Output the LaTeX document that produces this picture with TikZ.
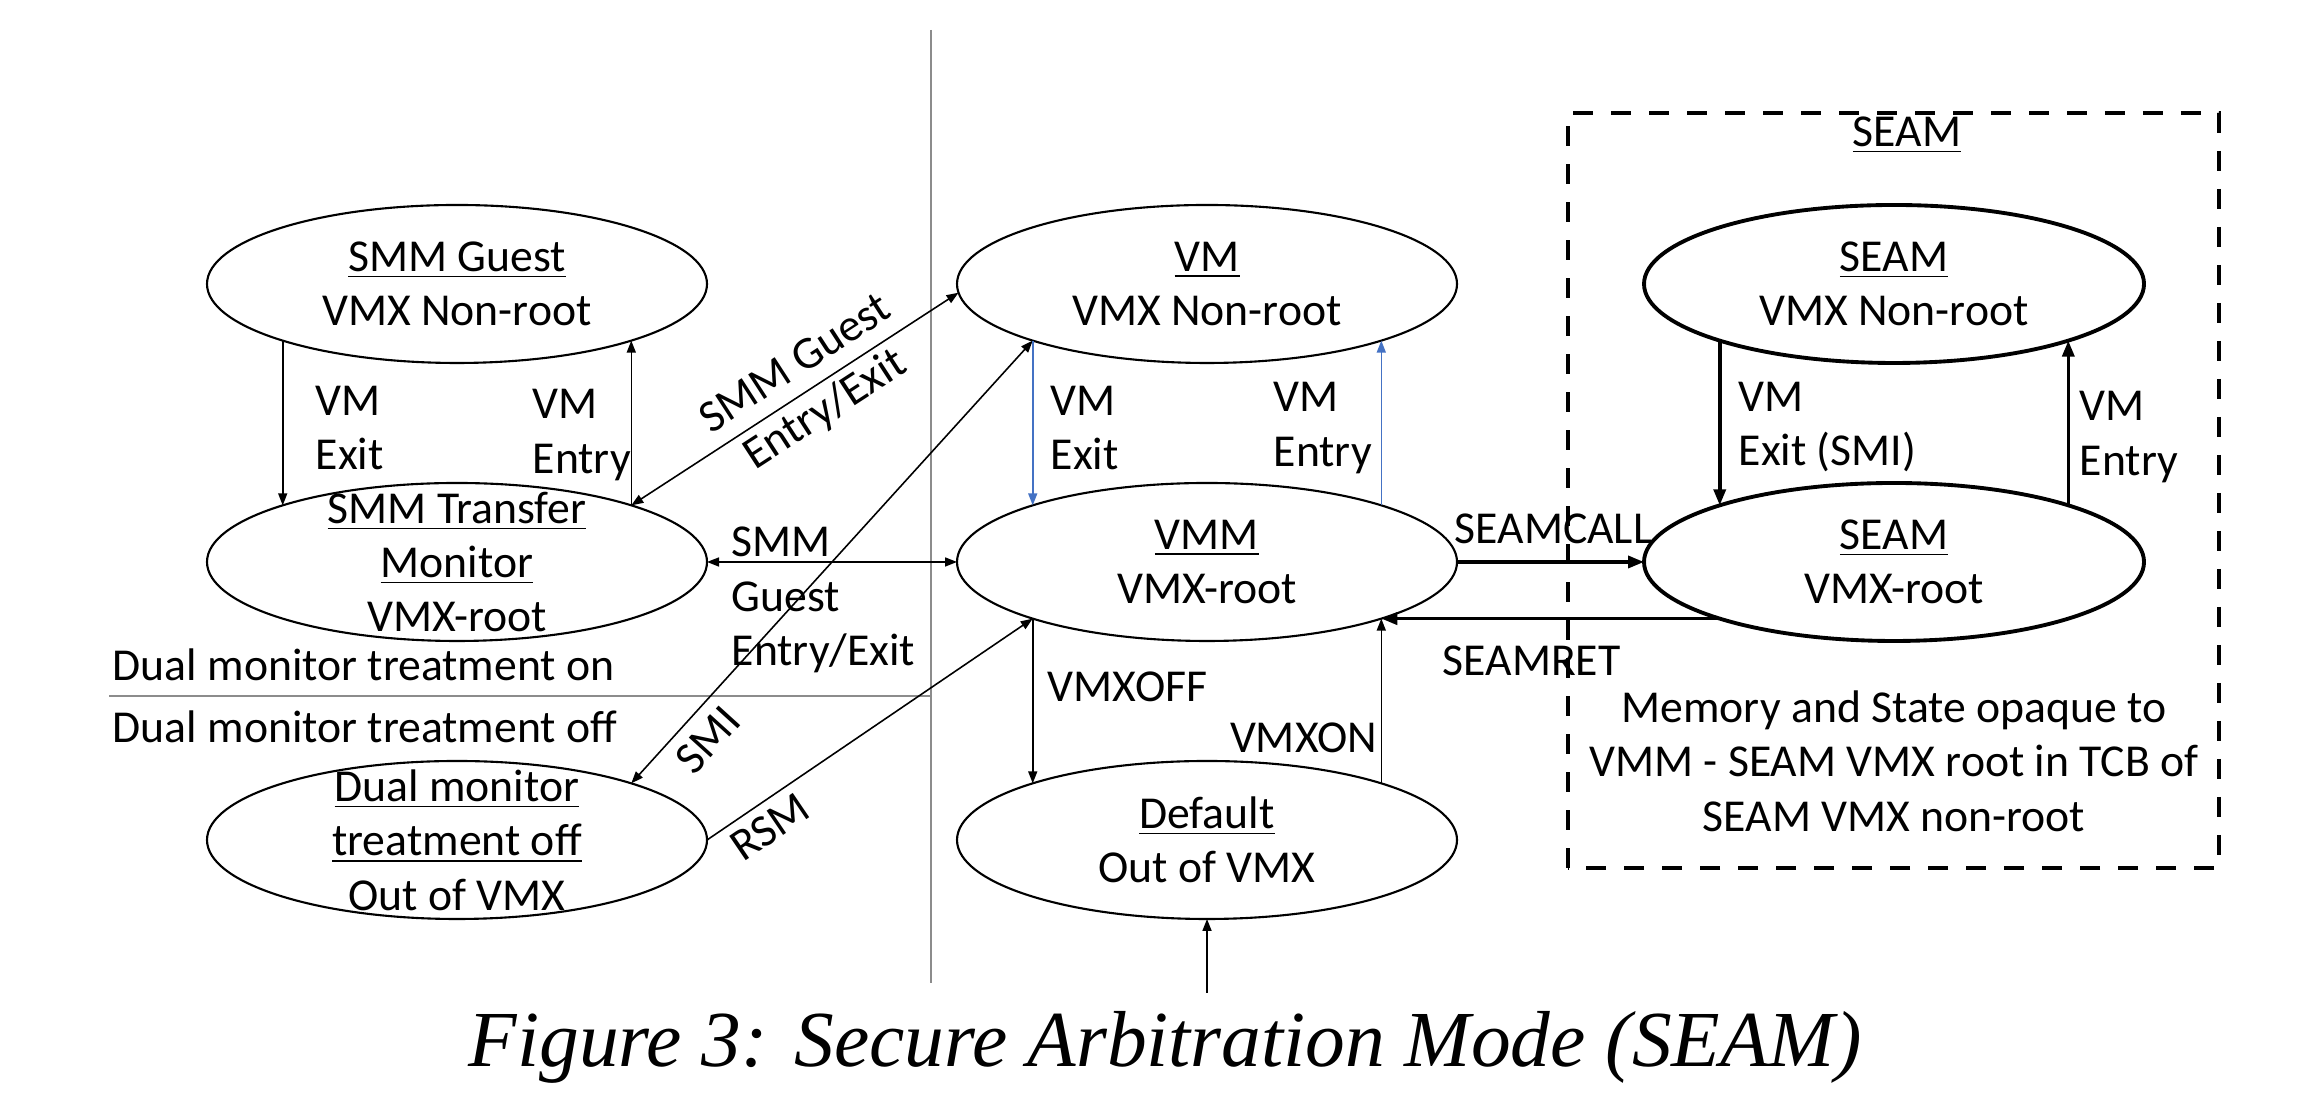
\documentclass[tikz,border=0pt]{standalone}
\usepackage{fontspec}
\setmainfont{Carlito}
\newfontfamily\capfont{Liberation Serif}
\usetikzlibrary{arrows.meta,shapes.geometric}

\definecolor{vmblue}{HTML}{4472C4}
\definecolor{sepgray}{HTML}{8C8C8C}

\tikzset{
	state/.style = {ellipse, draw, line width = 0.6pt, minimum width = 5cm,
		minimum height = 1.58cm, inner sep = 0pt, outer sep = 0pt},
	seamstate/.style = {state, line width = 1.1pt},
	statetext/.style = {align = center, inner sep = 0pt},
	lbl/.style = {align = left, inner sep = 0pt},
	vmarrow/.style = {draw = vmblue, ->},
	seamarrow/.style = {line width = 1pt, -{Triangle[length = 1.6mm, width = 1.2mm]}},
	seambox/.style = {line width = 1.3pt, dash pattern = on 0.2cm off 0.18cm},
	sepline/.style = {draw = sepgray, line width = 0.5pt}
}

\begin{document}
\begin{tikzpicture}[font = \fontsize{13}{15.5}\selectfont, line width = 0.45pt,
		>={Triangle[length = 1.2mm, width = 0.9mm]}]
		\useasboundingbox (0,0) rectangle (23.16,10.95);

		% separators
		\draw[sepline] (9.31,10.65) -- (9.31,1.12);
		\draw[sepline] (1.09,3.99) -- (9.31,3.99);
		\node[lbl, anchor = west] (dmon) at (1.12,4.30) {Dual monitor treatment on};
		\node[lbl, anchor = west] (dmofflbl) at (1.12,3.68) {Dual monitor treatment off};

		% states
		\node[state, label = {[statetext]center:{\underline{SMM Guest}\\VMX Non-root}}]
			(smmguest) at (4.57,8.11) {};
		\node[state, label = {[statetext]center:{\underline{SMM Transfer}\\\underline{Monitor}\\VMX-root}}]
			(smmtm) at (4.57,5.33) {};
		\node[state, label = {[statetext]center:{\underline{Dual monitor}\\\underline{treatment off}\\Out of VMX}}]
			(dmoff) at (4.57,2.55) {};
		\node[state, label = {[statetext]center:{\underline{VM}\\VMX Non-root}}]
			(vm) at (12.07,8.11) {};
		\node[state, label = {[statetext]center:{\underline{VMM}\\VMX-root}}]
			(vmm) at (12.07,5.33) {};
		\node[state, label = {[statetext]center:{\underline{Default}\\Out of VMX}}]
			(default) at (12.07,2.55) {};
		\node[seamstate, label = {[statetext]center:{\underline{SEAM}\\VMX Non-root}}]
			(seamnr) at (18.94,8.11) {};
		\node[seamstate, label = {[statetext]center:{\underline{SEAM}\\VMX-root}}]
			(seamr) at (18.94,5.33) {};

		% SEAM box
		\draw[seambox] (15.68,2.27) rectangle (22.19,9.82);
		\node[statetext] (seamtitle) at (19.07,9.60) {\underline{SEAM}};
		\node[statetext] (opaque) at (18.94,3.34)
			{Memory and State opaque to\\VMM - SEAM VMX root in TCB of\\SEAM VMX non-root};

		% left column
		\draw [->] (smmguest.198) -- (smmtm.162);
		\draw [->] (smmtm.18) -- (smmguest.342);
		\node[lbl, anchor = west] (smmexit) at (3.15,6.67) {VM\\Exit};
		\node[lbl, anchor = west] (smmentry) at (5.32,6.60) {VM\\Entry};

		\draw [<->] (smmtm.18) -- node[pos = 0.55, sloped, statetext]
			(smmdiag) {SMM Guest\\Entry/Exit} (vm.182);
		\draw [<->] (smmtm.east) -- (vmm.west);
		\node[lbl, anchor = west] (smmhoriz) at (7.31,4.95) {SMM\\Guest\\Entry/Exit};

		\draw [<->] (dmoff.18) -- node[pos = 0.14, sloped, below] (smi) {SMI} (vm.198);
		\draw [->] (dmoff.east) -- node[pos = 0.15, sloped, below, inner sep = 2.5pt]
			(rsm) {RSM} (vmm.198);

		% middle column
		\draw [vmarrow] (vm.198) -- (vmm.162);
		\draw [vmarrow] (vmm.18) -- (vm.342);
		\node[lbl, anchor = west] (vmexit) at (10.50,6.67) {VM\\Exit};
		\node[lbl, anchor = west] (vmentry) at (12.73,6.67) {VM\\Entry};

		\draw [->] (vmm.198) -- (default.162);
		\draw [->] (default.18) -- (vmm.342);
		\node[lbl, anchor = west] (vmxoff) at (10.47,4.08) {VMXOFF};
		\node[lbl, anchor = east] (vmxon) at (13.78,3.57) {VMXON};

		\coordinate (start) at (12.07,1.02);
		\draw [->] (start) -- (default.south);

		% SEAM transitions
		\draw [seamarrow] (vmm.east) -- (seamr.west);
		\draw [seamarrow] (seamr.198) -- (vmm.342);
		\node[lbl, anchor = west] (seamcall) at (14.54,5.66) {SEAMCALL};
		\node[lbl, anchor = west] (seamret) at (14.42,4.34) {SEAMRET};

		\draw [seamarrow] (seamnr.198) -- (seamr.162);
		\draw [seamarrow] (seamr.18) -- (seamnr.342);
		\node[lbl, anchor = west] (seamexit) at (17.38,6.68) {VM\\Exit (SMI)};
		\node[lbl, anchor = west] (seamentry) at (20.79,6.58) {VM\\Entry};

		\node[anchor = base west, inner sep = 0pt,
			font = \capfont\itshape\fontsize{22.6}{27}\selectfont]
			(caption) at (4.68,0.28) {Figure 3: Secure Arbitration Mode (SEAM)};
	\end{tikzpicture}
\end{document}
